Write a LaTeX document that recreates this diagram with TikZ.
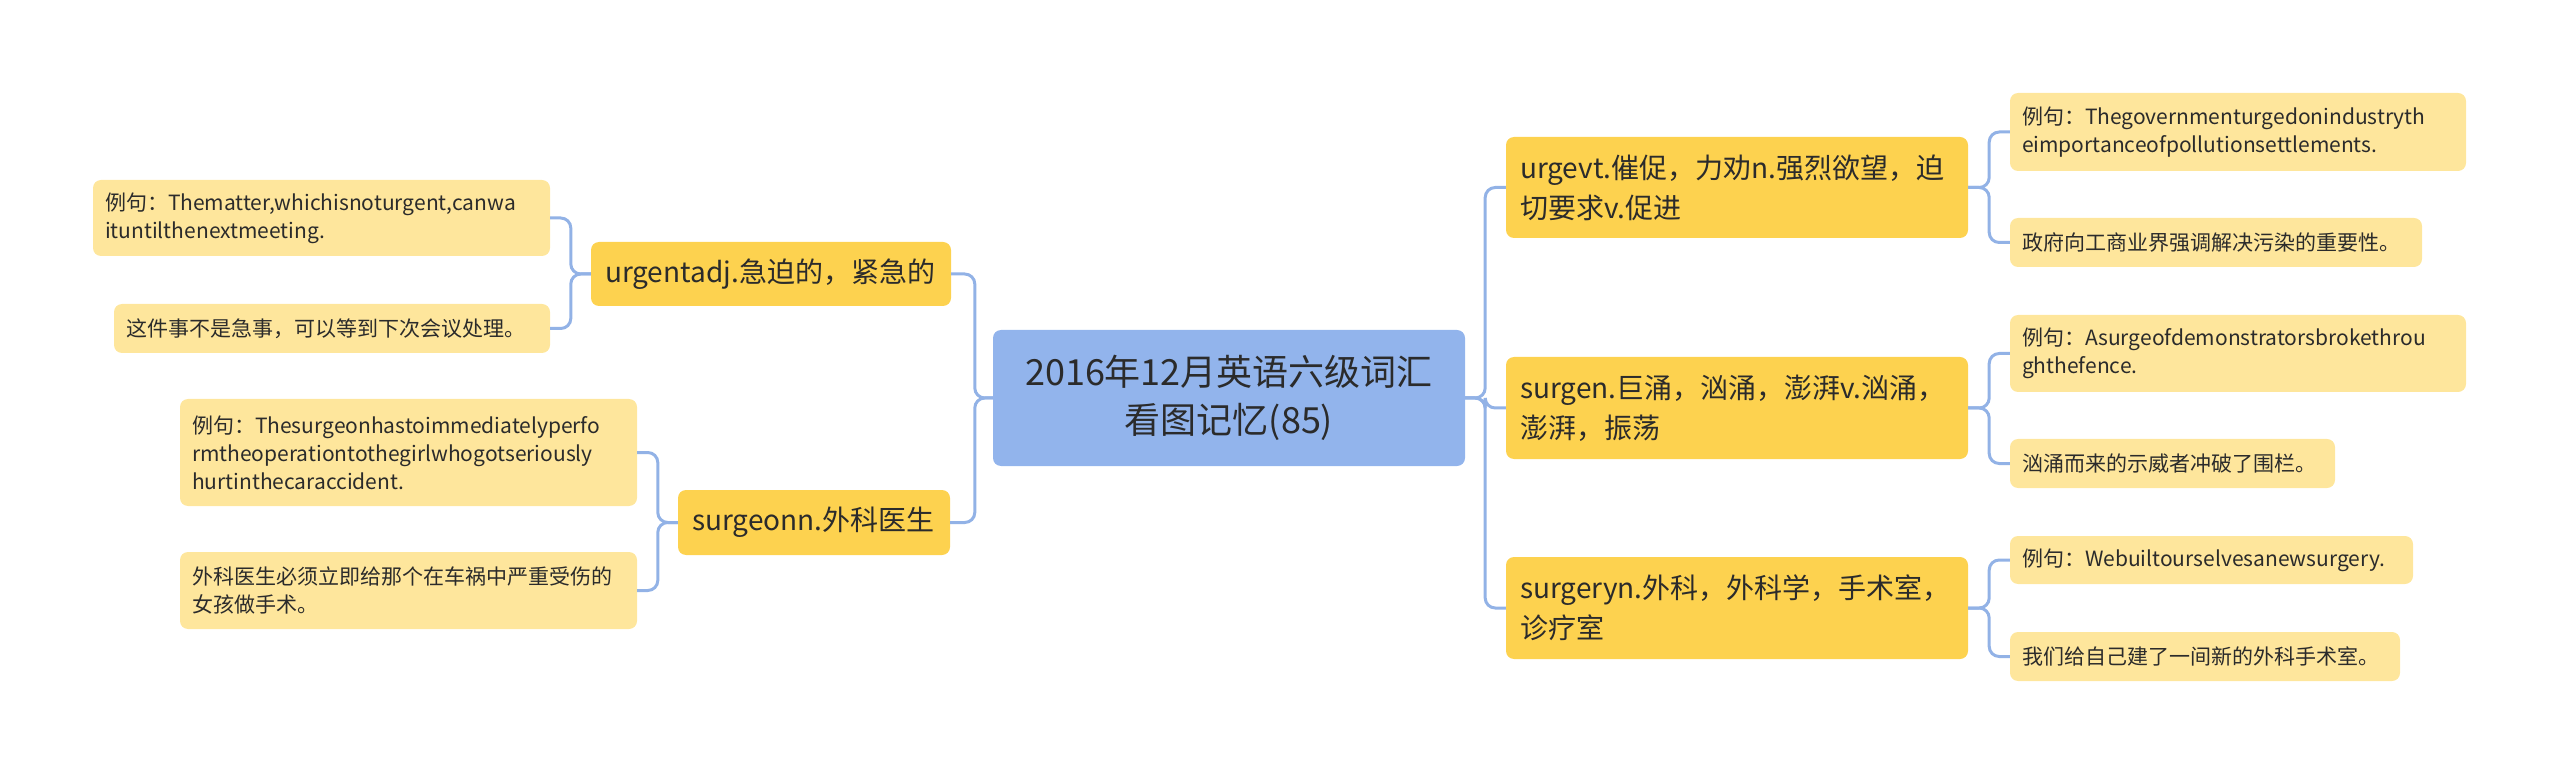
\documentclass[tikz,border=0pt]{standalone}
\usepackage{fontspec}
\setmainfont{Noto Sans CJK SC}
\definecolor{rootfill}{HTML}{92B4EC}
\definecolor{mainfill}{HTML}{FDD24F}
\definecolor{leaffill}{HTML}{FEE69C}
\definecolor{linecol}{HTML}{92B2E6}
\definecolor{txt}{HTML}{2B2B2B}
\begin{document}
\begin{tikzpicture}[x=1pt,y=-1pt,
  rootbox/.style={fill=rootfill,rounded corners=8pt,align=center,text=txt,
    inner sep=0pt,font=\fontsize{36}{48}\selectfont},
  mainbox/.style={fill=mainfill,rounded corners=8pt,align=left,text=txt,
    inner xsep=14pt,inner ysep=0pt,font=\fontsize{28}{40}\selectfont},
  leafbox/.style={fill=leaffill,rounded corners=8pt,align=left,text=txt,
    inner xsep=12pt,inner ysep=0pt,font=\fontsize{21}{28}\selectfont},
  conn/.style={draw=linecol,line width=3pt,rounded corners=10pt}]
\useasboundingbox (0,0) rectangle (2560,775);
% root
\node[rootbox,minimum width=472pt,minimum height=136pt] (root) at (1229,398)
  {2016年12月英语六级词汇\\看图记忆(85)};
% left main
\node[mainbox,text width=332pt,minimum height=64pt] (ua) at (771,274)
  {urgentadj.急迫的，紧急的};
\node[mainbox,text width=244pt,minimum height=65pt] (sg) at (814,522.5)
  {surgeonn.外科医生};
% left leaves
\node[leafbox,text width=433pt,minimum height=76pt] (l1) at (321.5,218)
  {例句：Thematter,whichisnoturgent,canwa\\ituntilthenextmeeting.};
\node[leafbox,text width=412pt,minimum height=49pt] (l2) at (332,328.5)
  {这件事不是急事，可以等到下次会议处理。};
\node[leafbox,text width=433pt,minimum height=107pt] (l3) at (408.5,452.5)
  {例句：Thesurgeonhastoimmediatelyperfo\\rmtheoperationtothegirlwhogotseriously\\hurtinthecaraccident.};
\node[leafbox,text width=433pt,minimum height=77pt] (l4) at (408.5,590.5)
  {外科医生必须立即给那个在车祸中严重受伤的\\女孩做手术。};
% right main
\node[mainbox,text width=434pt,minimum height=101pt] (uv) at (1737,187.5)
  {urgevt.催促，力劝n.强烈欲望，迫\\切要求v.促进};
\node[mainbox,text width=434pt,minimum height=102pt] (sn) at (1737,408)
  {surgen.巨涌，汹涌，澎湃v.汹涌，\\澎湃，振荡};
\node[mainbox,text width=434pt,minimum height=102pt] (sy) at (1737,608)
  {surgeryn.外科，外科学，手术室，\\诊疗室};
% right leaves
\node[leafbox,text width=432pt,minimum height=78pt] (l5) at (2238,132)
  {例句：Thegovernmenturgedonindustryth\\eimportanceofpollutionsettlements.};
\node[leafbox,text width=388pt,minimum height=49pt] (l6) at (2216,242.5)
  {政府向工商业界强调解决污染的重要性。};
\node[leafbox,text width=432pt,minimum height=77pt] (l7) at (2238,353.5)
  {例句：Asurgeofdemonstratorsbrokethrou\\ghthefence.};
\node[leafbox,text width=301pt,minimum height=49pt] (l8) at (2172.5,463.5)
  {汹涌而来的示威者冲破了围栏。};
\node[leafbox,text width=379pt,minimum height=48pt] (l9) at (2211.5,560)
  {例句：Webuiltourselvesanewsurgery.};
\node[leafbox,text width=366pt,minimum height=49pt] (l10) at (2205,656.5)
  {我们给自己建了一间新的外科手术室。};
% connectors root -> main
\draw[conn] (root.west) -- ++(-18,0) |- (ua.east);
\draw[conn] (root.west) -- ++(-18,0) |- (sg.east);
\draw[conn] (root.east) -- ++(20,0) |- (uv.west);
\draw[conn] (root.east) -- ++(20,0) |- (sn.west);
\draw[conn] (root.east) -- ++(20,0) |- (sy.west);
% main -> leaves
\draw[conn] (ua.west) -- ++(-20,0) |- (l1.east);
\draw[conn] (ua.west) -- ++(-20,0) |- (l2.east);
\draw[conn] (sg.west) -- ++(-20,0) |- (l3.east);
\draw[conn] (sg.west) -- ++(-20,0) |- (l4.east);
\draw[conn] (uv.east) -- ++(21,0) |- (l5.west);
\draw[conn] (uv.east) -- ++(21,0) |- (l6.west);
\draw[conn] (sn.east) -- ++(21,0) |- (l7.west);
\draw[conn] (sn.east) -- ++(21,0) |- (l8.west);
\draw[conn] (sy.east) -- ++(21,0) |- (l9.west);
\draw[conn] (sy.east) -- ++(21,0) |- (l10.west);
\end{tikzpicture}
\end{document}
